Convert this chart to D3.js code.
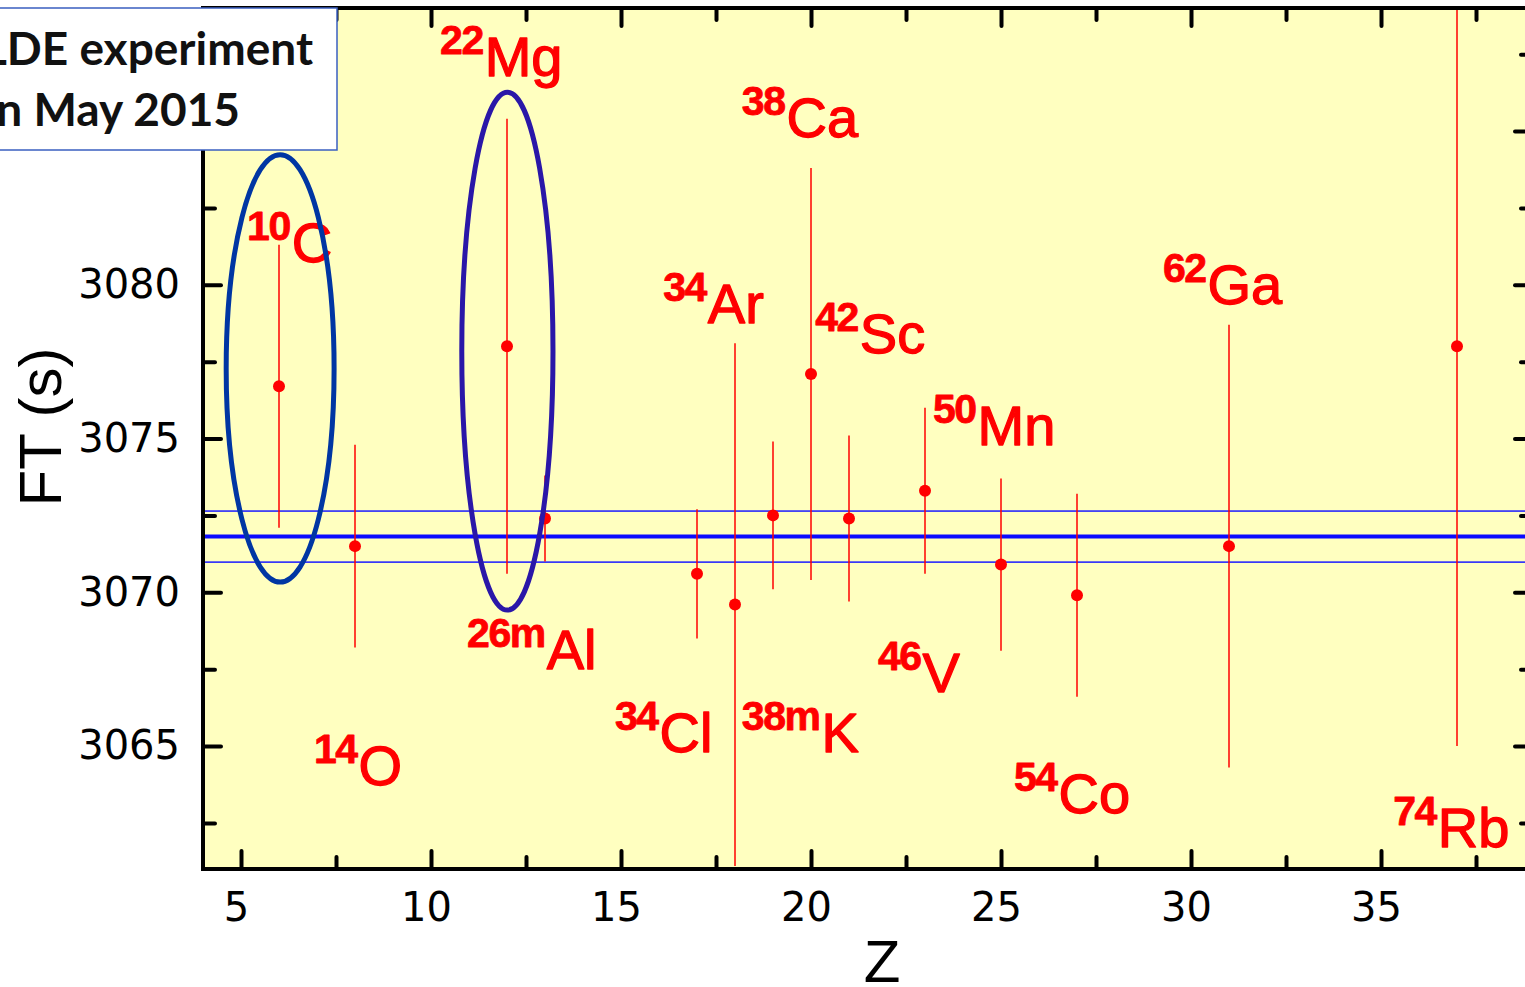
<!DOCTYPE html>
<html>
<head>
<meta charset="utf-8">
<script src="https://cdn.jsdelivr.net/npm/d3@7"></script>
<style>
  body { margin: 0; background: #fff; }
  svg { display: block; }
</style>
</head>
<body>
<div id="chart"></div>
<script>
/* DATA */
const massNumbers = ["10", "14", "22", "26m", "34", "34", "38m", "38", "42", "46", "50", "54", "62", "74"];
const elements = ["C", "O", "Mg", "Al", "Cl", "Ar", "K", "Ca", "Sc", "V", "Mn", "Co", "Ga", "Rb"];
const zValues = [6, 8, 12, 13, 17, 18, 19, 20, 21, 23, 25, 27, 31, 37];
const ftValues = [3076.7, 3071.5, 3078.0, 3072.4, 3070.6, 3069.6, 3072.5, 3077.1, 3072.4, 3073.3, 3070.9, 3069.9, 3071.5, 3078.0];
const ftErrors = [4.6, 3.3, 7.4, 1.4, 2.1, 8.5, 2.4, 6.7, 2.7, 2.7, 2.8, 3.3, 7.2, 13.0];
// where each nuclide name sits, in data units (Z, FT)
const labelZ = [5.16, 6.92, 10.24, 10.95, 14.84, 16.11, 18.18, 18.18, 20.11, 21.76, 23.21, 25.34, 29.26, 35.32];
const labelFT = [3080.75, 3063.73, 3086.78, 3067.5, 3064.8, 3078.76, 3064.8, 3084.82, 3077.79, 3066.76, 3074.79, 3062.82, 3079.36, 3061.71];

const meanFT = 3071.81, meanErr = 0.83;

// the two circled cases: centre Z, centre FT, half width (Z), half height (FT)
const ringZ = [6.03, 12.01];
const ringFT = [3077.28, 3077.84];
const ringRZ = [1.42, 1.2];
const ringRFT = [6.95, 8.42];
const ringColors = ["#0036a3", "#2a17a8"];

const xMajor = [5, 10, 15, 20, 25, 30, 35];
const xMinor = [7.5, 12.5, 17.5, 22.5, 27.5, 32.5, 37.5];
const yMajor = [3065, 3070, 3075, 3080, 3085];
const yMinor = [3062.5, 3067.5, 3072.5, 3077.5, 3082.5, 3087.5];

const legendLines = ["ISOLDE experiment", "in May 2015"];

/* LAYOUT */
const width = 1525, height = 987;
const plot = { left: 203, right: 1533, top: 8, bottom: 869 };

const svg = d3.select("#chart").append("svg")
  .attr("width", width)
  .attr("height", height);

const x = d3.scaleLinear().domain([4, 39]).range([plot.left, plot.right]);
const y = d3.scaleLinear().domain([3061, 3089]).range([plot.bottom, plot.top]);

svg.append("defs").append("clipPath").attr("id", "clip")
  .append("rect")
  .attr("x", plot.left).attr("y", plot.top)
  .attr("width", plot.right - plot.left).attr("height", plot.bottom - plot.top);

// background
svg.append("rect")
  .attr("x", plot.left).attr("y", plot.top)
  .attr("width", plot.right - plot.left).attr("height", plot.bottom - plot.top)
  .attr("fill", "#ffffc0");

const inner = svg.append("g").attr("clip-path", "url(#clip)");

// mean band
inner.append("rect")
  .attr("x", plot.left + 1)
  .attr("y", y(meanFT + meanErr))
  .attr("width", plot.right - plot.left)
  .attr("height", y(meanFT - meanErr) - y(meanFT + meanErr))
  .attr("fill", "none")
  .attr("stroke", "#1a1aff")
  .attr("stroke-width", 1.5);

inner.append("line")
  .attr("x1", plot.left).attr("x2", plot.right)
  .attr("y1", y(meanFT)).attr("y2", y(meanFT))
  .attr("stroke", "#0a0aff")
  .attr("stroke-width", 4);

// error bars
inner.selectAll("line.err")
  .data(zValues)
  .join("line")
  .attr("class", "err")
  .attr("x1", d => x(d)).attr("x2", d => x(d))
  .attr("y1", (d, i) => y(ftValues[i] + ftErrors[i]))
  .attr("y2", (d, i) => y(ftValues[i] - ftErrors[i]))
  .attr("stroke", "#ff0000")
  .attr("stroke-width", 1.5);

inner.selectAll("circle.pt")
  .data(zValues)
  .join("circle")
  .attr("class", "pt")
  .attr("cx", d => x(d))
  .attr("cy", (d, i) => y(ftValues[i]))
  .attr("r", 6)
  .attr("fill", "#ff0000");

// nuclide names
const labels = inner.selectAll("text.nuc")
  .data(elements)
  .join("text")
  .attr("class", "nuc")
  .attr("x", (d, i) => x(labelZ[i]))
  .attr("y", (d, i) => y(labelFT[i]))
  .attr("fill", "#ff0000")
  .attr("stroke", "#ff0000")
  .attr("stroke-linejoin", "round")
  .style("font-family", "'Liberation Sans', Arial, sans-serif");

labels.append("tspan")
  .attr("dy", -22)
  .attr("stroke-width", 0.8)
  .style("font-size", "41px")
  .style("font-weight", "bold")
  .attr("letter-spacing", -1.5)
  .text((d, i) => massNumbers[i]);

labels.append("tspan")
  .attr("dy", 22)
  .attr("dx", 2)
  .attr("stroke-width", 1.3)
  .style("font-size", "56px")
  .text(d => d);

// ellipses
inner.selectAll("ellipse")
  .data(ringZ)
  .join("ellipse")
  .attr("cx", d => x(d))
  .attr("cy", (d, i) => y(ringFT[i]))
  .attr("rx", (d, i) => x(d + ringRZ[i]) - x(d))
  .attr("ry", (d, i) => y(ringFT[i] - ringRFT[i]) - y(ringFT[i]))
  .attr("fill", "none")
  .attr("stroke", (d, i) => ringColors[i])
  .attr("stroke-width", 5);

/* AXES */
const tickStyle = g => {
  g.select(".domain").remove();
  g.selectAll(".tick line").attr("stroke", "#000").attr("stroke-width", 4).attr("stroke-linecap", "round");
};

function addAxis(axisFn, scale, values, size, transform, labelsOn) {
  const a = axisFn(scale).tickValues(values).tickSizeInner(-size).tickSizeOuter(0)
    .tickFormat(labelsOn ? d3.format("d") : "");
  return svg.append("g").attr("transform", transform).call(a).call(tickStyle);
}

const yLeft = addAxis(d3.axisLeft, y, yMajor, 18, `translate(${plot.left},0)`, true);
yLeft.selectAll("text")
  .attr("x", -23)
  .style("font-family", "'DejaVu Sans', sans-serif")
  .style("font-size", "40px")
  .attr("fill", "#000");
addAxis(d3.axisLeft, y, yMinor, 12, `translate(${plot.left},0)`, false);
addAxis(d3.axisRight, y, yMajor, 18, `translate(${plot.right},0)`, false);
addAxis(d3.axisRight, y, yMinor, 12, `translate(${plot.right},0)`, false);

const xBottom = addAxis(d3.axisBottom, x, xMajor, 18, `translate(0,${plot.bottom})`, true);
xBottom.selectAll("text")
  .attr("y", 24)
  .attr("dx", -5)
  .style("font-family", "'DejaVu Sans', sans-serif")
  .style("font-size", "40px")
  .attr("fill", "#000");
addAxis(d3.axisBottom, x, xMinor, 12, `translate(0,${plot.bottom})`, false);
addAxis(d3.axisTop, x, xMajor, 18, `translate(0,${plot.top})`, false);
addAxis(d3.axisTop, x, xMinor, 12, `translate(0,${plot.top})`, false);

// frame
svg.append("rect")
  .attr("x", plot.left).attr("y", plot.top)
  .attr("width", plot.right - plot.left).attr("height", plot.bottom - plot.top)
  .attr("fill", "none")
  .attr("stroke", "#000")
  .attr("stroke-width", 4);

// axis titles
svg.append("text")
  .attr("transform", "translate(61,427) rotate(-90)")
  .attr("text-anchor", "middle")
  .style("font-family", "'Liberation Sans', Arial, sans-serif")
  .style("font-size", "60px")
  .attr("fill", "#000")
  .text("FT  (s)");

svg.append("text")
  .attr("x", 882).attr("y", 982)
  .attr("text-anchor", "middle")
  .style("font-family", "'Liberation Sans', Arial, sans-serif")
  .style("font-size", "60px")
  .attr("fill", "#000")
  .text("Z");

/* LEGEND BOX */
svg.append("rect")
  .attr("x", -10).attr("y", 8)
  .attr("width", 347).attr("height", 142)
  .attr("fill", "#fff")
  .attr("stroke", "#3a5fc0")
  .attr("stroke-width", 1.5);

svg.selectAll("text.legend")
  .data(legendLines)
  .join("text")
  .attr("class", "legend")
  .attr("x", (d, i) => i === 0 ? 313 : 240)
  .attr("y", (d, i) => 65 + i * 61)
  .attr("text-anchor", "end")
  .style("font-family", "Lato, 'Open Sans', sans-serif")
  .style("font-weight", "bold")
  .style("font-size", "46px")
  .attr("fill", "#111")
  .text(d => d);
</script>
</body>
</html>
